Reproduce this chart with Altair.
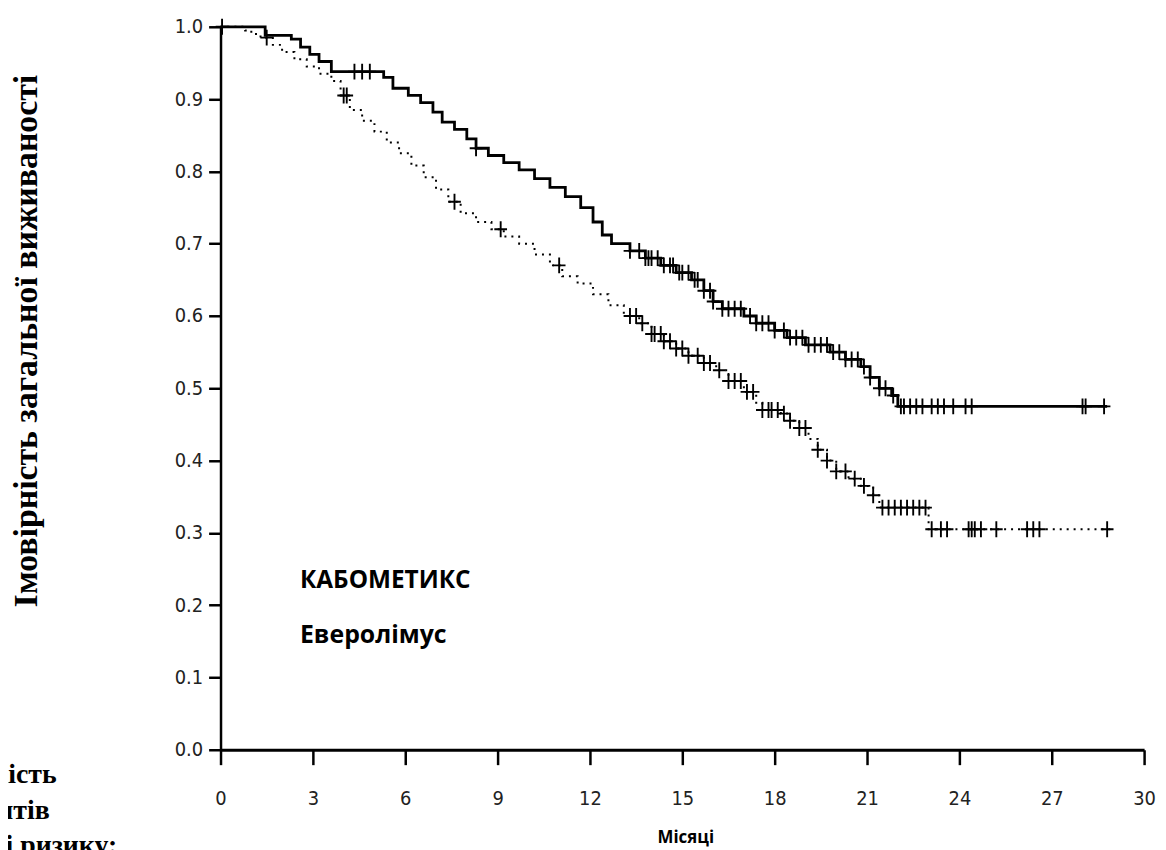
import altair as alt
import pandas as pd
import numpy as np

# ---------------- data ----------------
x_ticks = list(range(0, 31, 3))
y_ticks = [round(0.1 * i, 1) for i in range(11)]

# КАБОМЕТИКС (solid) Kaplan-Meier steps
cabo_t = [0.0, 1.45, 2.3, 2.6, 2.9, 3.2, 3.6, 5.3, 5.6, 6.1, 6.5, 6.9, 7.2, 7.6, 8.0, 8.3, 8.7,
          9.2, 9.7, 10.2, 10.7, 11.2, 11.7, 12.1, 12.4, 12.7, 13.3, 13.8, 14.3, 14.8, 15.3, 15.7,
          16.0, 16.3, 17.0, 17.4, 18.0, 18.4, 19.0, 19.8, 20.3, 20.8, 21.1, 21.4, 21.8, 22.0, 28.8]
cabo_s = [1.0, 0.988, 0.983, 0.972, 0.962, 0.952, 0.938, 0.93, 0.915, 0.905, 0.895, 0.882, 0.868,
          0.858, 0.845, 0.832, 0.822, 0.812, 0.802, 0.79, 0.778, 0.765, 0.75, 0.73, 0.712, 0.70,
          0.69, 0.68, 0.67, 0.66, 0.65, 0.635, 0.62, 0.61, 0.60, 0.59, 0.58, 0.57, 0.56, 0.55,
          0.54, 0.53, 0.515, 0.50, 0.49, 0.475, 0.475]

# Еверолімус (dotted) Kaplan-Meier steps
evero_t = [0.0, 0.8, 1.0, 1.3, 1.7, 2.0, 2.4, 2.8, 3.2, 3.6, 3.9, 4.2, 4.6, 5.0, 5.4, 5.8, 6.2,
           6.6, 7.0, 7.4, 7.8, 8.3, 8.8, 9.2, 9.7, 10.2, 10.7, 11.1, 11.6, 12.1, 12.6, 13.1, 13.6,
           14.0, 14.4, 14.8, 15.2, 15.7, 16.1, 16.5, 17.0, 17.4, 17.6, 18.2, 18.5, 18.8, 19.1,
           19.4, 19.7, 20.0, 20.4, 20.8, 21.2, 21.4, 23.0, 28.9]
evero_s = [1.0, 0.995, 0.99, 0.985, 0.975, 0.965, 0.955, 0.945, 0.935, 0.925, 0.905, 0.885, 0.87,
           0.855, 0.84, 0.825, 0.808, 0.792, 0.775, 0.758, 0.742, 0.73, 0.72, 0.71, 0.70, 0.685,
           0.67, 0.655, 0.645, 0.63, 0.615, 0.60, 0.59, 0.575, 0.565, 0.555, 0.545, 0.535, 0.525,
           0.51, 0.495, 0.48, 0.47, 0.465, 0.455, 0.445, 0.43, 0.415, 0.40, 0.385, 0.375, 0.365,
           0.352, 0.335, 0.305, 0.305]

# censoring times
cabo_cens = [0.05, 4.35, 4.6, 4.85, 8.3, 13.3, 13.6, 13.8, 13.9, 14.0, 14.2, 14.4, 14.6, 14.7,
             14.9, 15.0, 15.2, 15.4, 15.5, 15.7, 15.9, 16.0, 16.3, 16.5, 16.7, 16.9, 17.2, 17.4,
             17.6, 17.8, 18.0, 18.3, 18.5, 18.7, 18.9, 19.1, 19.3, 19.5, 19.7, 19.9, 20.1, 20.3,
             20.5, 20.7, 20.9, 21.1, 21.4, 21.6, 21.85, 22.1, 22.2, 22.4, 22.6, 22.8, 23.1, 23.3,
             23.5, 23.8, 24.2, 24.4, 28.0, 28.1, 28.7]
evero_cens = [1.5, 4.0, 4.1, 7.6, 9.1, 11.0, 13.3, 13.5, 13.7, 14.0, 14.1, 14.3, 14.4, 14.6,
              14.8, 15.0, 15.2, 15.5, 15.7, 15.9, 16.2, 16.5, 16.7, 16.9, 17.1, 17.3, 17.6, 17.8,
              17.9, 18.1, 18.3, 18.5, 18.8, 19.0, 19.4, 19.7, 20.0, 20.3, 20.6, 20.9, 21.2, 21.5,
              21.7, 21.9, 22.1, 22.3, 22.5, 22.7, 22.9, 23.1, 23.4, 23.6, 24.3, 24.4, 24.5, 24.7,
              25.2, 26.2, 26.4, 26.6, 28.8]

legend_labels = ["КАБОМЕТИКС", "Еверолімус"]
risk_lines = ["Кількість", "пацієнтів", "групі ризику:"]
y_title = "Імовірність загальної виживаності"
x_title = "Місяці"


def step_at(ts, ss, t):
    i = int(np.searchsorted(np.array(ts), t, side="right")) - 1
    return ss[max(i, 0)]


cabo_df = pd.DataFrame({"t": cabo_t, "s": cabo_s})
evero_df = pd.DataFrame({"t": evero_t, "s": evero_s})
cabo_c = pd.DataFrame({"t": cabo_cens, "s": [step_at(cabo_t, cabo_s, t) for t in cabo_cens]})
evero_c = pd.DataFrame({"t": evero_cens, "s": [step_at(evero_t, evero_s, t) for t in evero_cens]})

xscale = alt.Scale(domain=[0, 30], nice=False, zero=False)
yscale = alt.Scale(domain=[0, 1], nice=False)

LABEL_FONT = "Liberation Sans Narrow, DejaVu Sans Condensed, Arial, sans-serif"

xaxis = alt.Axis(values=x_ticks, title=x_title, grid=False, tickSize=15, tickWidth=2.5,
                 domainWidth=3, domainColor="black", tickColor="black",
                 labelFont=LABEL_FONT, labelFontSize=20, labelColor="#222",
                 labelPadding=24, labelFlush=False,
                 titleFont="Open Sans", titleFontSize=17, titleFontWeight="bold",
                 titleColor="black", titleX=468, titleY=93, titleBaseline="alphabetic",
                 titleAnchor=None)
yaxis = alt.Axis(values=y_ticks, format=".1f", title=y_title, grid=False, tickSize=12,
                 tickWidth=2.5, domainWidth=2.5, domainColor="black", tickColor="black",
                 labelFont=LABEL_FONT, labelFontSize=20, labelColor="#222", labelPadding=6,
                 titleFont="Liberation Serif", titleFontSize=34, titleFontWeight="bold",
                 titleColor="black", titleX=-195, titleY=316, titleAngle=270,
                 titleBaseline="middle", titleAlign="center")

cabo_line = alt.Chart(cabo_df).mark_line(interpolate="step-after", color="black",
                                         strokeWidth=2.8).encode(
    x=alt.X("t:Q", scale=xscale, axis=xaxis),
    y=alt.Y("s:Q", scale=yscale, axis=yaxis),
)
evero_line = alt.Chart(evero_df).mark_line(interpolate="step-after", color="black",
                                           strokeWidth=2, strokeDash=[2, 5]).encode(
    x=alt.X("t:Q", scale=xscale),
    y=alt.Y("s:Q", scale=yscale),
)

CROSS = "M-0.8,0L0.8,0M0,-1L0,1"
cabo_pts = alt.Chart(cabo_c).mark_point(shape=CROSS, size=256, filled=False, color="black",
                                        strokeWidth=1.9, opacity=1).encode(
    x=alt.X("t:Q", scale=xscale), y=alt.Y("s:Q", scale=yscale))
evero_pts = alt.Chart(evero_c).mark_point(shape=CROSS, size=256, filled=False, color="black",
                                          strokeWidth=1.9, opacity=1).encode(
    x=alt.X("t:Q", scale=xscale), y=alt.Y("s:Q", scale=yscale))

legend1 = alt.Chart(pd.DataFrame({"lab": [legend_labels[0]]})).mark_text(
    font="Open Sans", fontSize=24.5, fontWeight="bold", align="left", baseline="alphabetic",
    color="black").encode(text="lab:N", x=alt.value(80), y=alt.value(565))
legend2 = alt.Chart(pd.DataFrame({"lab": [legend_labels[1]]})).mark_text(
    font="Open Sans", fontSize=25, fontWeight="bold", align="left", baseline="alphabetic",
    color="black").encode(text="lab:N", x=alt.value(80), y=alt.value(620))

risk_layers = []
for lab, xr, yb in zip(risk_lines, [-165, -172, -104], [761, 798, 833]):
    risk_layers.append(
        alt.Chart(pd.DataFrame({"lab": [lab]})).mark_text(
            font="Liberation Serif", fontSize=28, fontWeight="bold", align="right",
            baseline="alphabetic", color="black").encode(
            text="lab:N", x=alt.value(xr), y=alt.value(yb)))

chart = alt.layer(evero_line, cabo_line, evero_pts, cabo_pts, legend1, legend2, *risk_layers).properties(
    width=930, height=728,
    autosize=alt.AutoSizeParams(type="none"),
    padding={"left": 214, "top": 16, "right": 14, "bottom": 98},
    background="white",
).configure_view(stroke=None)

chart.save("out.html", embed_options={"renderer": "svg", "actions": False})
